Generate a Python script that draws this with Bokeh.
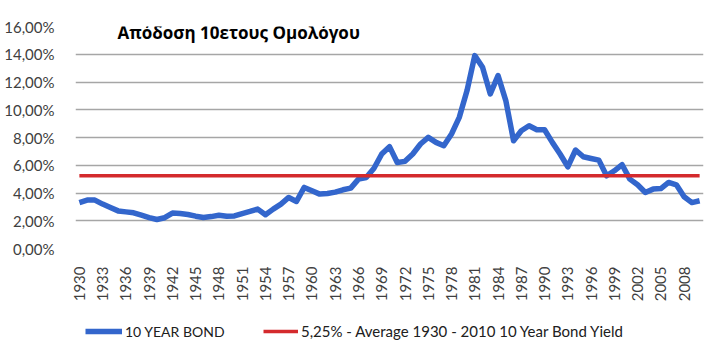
import math
from bokeh.plotting import figure
from bokeh.layouts import column
from bokeh.models import FixedTicker, Legend, LegendItem, Label, Range1d
from bokeh.embed import file_html
from bokeh.resources import INLINE

# ---- data ----
title_text = "Απόδοση 10ετους Ομολόγου"
years = list(range(1930, 2011))
yields = [3.31, 3.49, 3.49, 3.20, 2.95, 2.71, 2.64, 2.57, 2.40, 2.23,
          2.09, 2.22, 2.55, 2.52, 2.45, 2.33, 2.23, 2.30, 2.40, 2.32,
          2.35, 2.52, 2.67, 2.84, 2.43, 2.84, 3.20, 3.68, 3.39, 4.40,
          4.16, 3.92, 3.96, 4.06, 4.23, 4.35, 5.00, 5.12, 5.78, 6.81,
          7.34, 6.20, 6.28, 6.81, 7.53, 8.01, 7.65, 7.41, 8.25, 9.45,
          11.38, 13.90, 13.06, 11.14, 12.46, 10.66, 7.77, 8.49, 8.85, 8.56,
          8.56, 7.65, 6.81, 5.89, 7.10, 6.61, 6.49, 6.37, 5.24, 5.60,
          6.04, 5.00, 4.59, 4.04, 4.28, 4.32, 4.76, 4.59, 3.73, 3.31,
          3.44]
average_value = 5.25
average_series = [average_value] * len(years)
series_names = ["10 YEAR BOND", "5,25% - Average 1930 - 2010 10 Year Bond Yield"]
x_tick_years = list(range(1930, 2009, 3))
y_ticks = [0, 2, 4, 6, 8, 10, 12, 14, 16]
y_tick_labels = {v: f"{v},00%" for v in y_ticks}

FONT = "Lato"
LABEL_COLOR = "#404040"
BLUE = "#3366cc"
RED = "#d42a2d"

# ---- main chart ----
p = figure(width=704, height=310, x_range=(1929.5, 2010.5), y_range=(0, 16),
           output_backend="svg", toolbar_location=None,
           min_border_left=75, min_border_right=1, min_border_top=26, min_border_bottom=62)
p.outline_line_color = None
p.background_fill_color = "white"
p.border_fill_color = "white"

p.yaxis.ticker = FixedTicker(ticks=y_ticks)
p.yaxis.major_label_overrides = y_tick_labels
p.yaxis.axis_line_color = None
p.yaxis.major_tick_line_color = None
p.yaxis.minor_tick_line_color = None
p.yaxis.major_label_text_font = FONT
p.yaxis.major_label_text_font_size = "15px"
p.yaxis.major_label_text_color = LABEL_COLOR
p.yaxis.major_label_standoff = 15

p.xaxis.ticker = FixedTicker(ticks=x_tick_years)
p.xaxis.major_label_orientation = math.pi / 2
p.xaxis.axis_line_color = None
p.xaxis.major_tick_line_color = None
p.xaxis.minor_tick_line_color = None
p.xaxis.major_label_text_font = FONT
p.xaxis.major_label_text_font_size = "15px"
p.xaxis.major_label_text_color = LABEL_COLOR
p.xaxis.major_label_standoff = 12

p.xgrid.grid_line_color = None
p.ygrid.ticker = FixedTicker(ticks=y_ticks)
p.ygrid.grid_line_color = "#a6a6a6"
p.ygrid.grid_line_width = 1.3

p.line(years, yields, line_color=BLUE, line_width=5.5, line_join="round")
p.line(years, average_series, line_color=RED, line_width=3.5)

title = Label(x=42, y=216, x_units="screen", y_units="screen", text=title_text,
              text_font="Open Sans", text_font_style="bold", text_font_size="17px",
              text_color="#000000", text_baseline="alphabetic")
p.add_layout(title)

# ---- legend strip (series proxies lie outside its ranges, only legend shows) ----
lg = figure(width=704, height=42, x_range=Range1d(0, 1), y_range=Range1d(0, 1),
            output_backend="svg", toolbar_location=None,
            min_border_left=0, min_border_right=0, min_border_top=0, min_border_bottom=0)
lg.axis.visible = False
lg.grid.visible = False
lg.outline_line_color = None
lg.border_fill_color = "white"
lg_bond = lg.line(years, yields, line_color=BLUE, line_width=5.5)
lg_avg = lg.line(years, average_series, line_color=RED, line_width=3.5)

leg1 = Legend(items=[LegendItem(label=series_names[0], renderers=[lg_bond])],
              location=(10, 11), glyph_width=37, glyph_height=20, label_standoff=3,
              padding=0, margin=0, border_line_color=None, background_fill_alpha=0,
              label_text_font=FONT, label_text_font_size="14px", label_text_color="#202020")
leg2 = Legend(items=[LegendItem(label=series_names[1], renderers=[lg_avg])],
              location=(188, 11), glyph_width=35, glyph_height=20, label_standoff=3,
              padding=0, margin=0, border_line_color=None, background_fill_alpha=0,
              label_text_font=FONT, label_text_font_size="15px", label_text_color="#202020")
lg.add_layout(leg1)
lg.add_layout(leg2)

layout = column(p, lg, spacing=0)
open("out.html", "w").write(file_html(layout, INLINE))
